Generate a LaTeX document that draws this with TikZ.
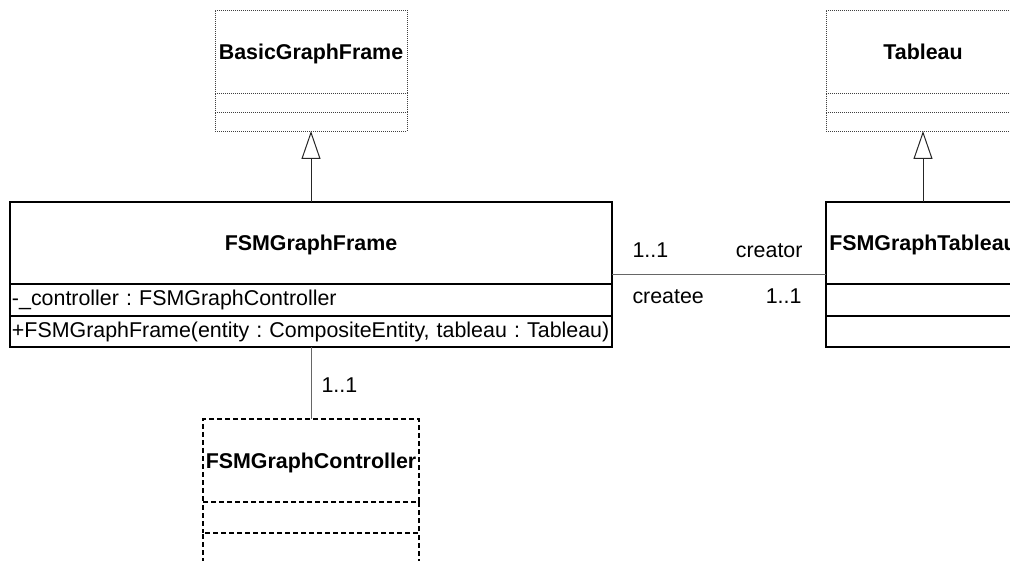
\documentclass[tikz,border=0pt]{standalone}
\usepackage{fontspec}
\setmainfont{Liberation Sans}
\usetikzlibrary{arrows.meta,positioning}

\begin{document}
\frenchspacing
\begin{tikzpicture}[
  node distance=0pt,
  font=\fontsize{21.4}{25}\selectfont,
  umlname/.style={rectangle, inner xsep=2pt, inner ysep=0pt, outer sep=0pt, text depth=0pt, align=center, font=\fontsize{21.4}{25}\selectfont\bfseries},
  umlcomp/.style={rectangle, inner xsep=2pt, inner ysep=0pt, outer sep=0pt, align=left},
  solidbox/.style={draw=black, line width=1.6pt},
  dotbox/.style={draw=black!75, line width=0.9pt, dash pattern=on 1pt off 1pt},
  dashbox/.style={draw=black, line width=1.4pt, dash pattern=on 5pt off 3pt},
  gen/.style={-{Triangle[open, length=28pt, width=19pt, line width=1pt]}, line width=1pt, draw=black!85},
  assoc/.style={line width=1pt, draw=black!60},
  mult/.style={inner sep=0pt, font=\fontsize{21.4}{25}\selectfont}
]
\useasboundingbox (0pt,0pt) rectangle (1010pt,-561pt);
\clip (0pt,0pt) rectangle (1010pt,-561pt);

% FSMGraphFrame
\node[umlname, solidbox, minimum width=602pt, minimum height=82pt] (frame) at (311pt,-243pt) {FSMGraphFrame};
\node[umlcomp, solidbox, minimum width=602pt, text width=598pt, minimum height=32pt, below=of frame] (fattr) {-\_controller : FSMGraphController};
\node[umlcomp, solidbox, minimum width=602pt, text width=598pt, minimum height=31pt, below=of fattr] (fmeth) {+FSMGraphFrame(entity : CompositeEntity, tableau : Tableau)};

% BasicGraphFrame
\node[umlname, dotbox, minimum width=192pt, minimum height=83pt, above=109pt of frame] (basic) {BasicGraphFrame};
\node[umlcomp, dotbox, minimum width=192pt, minimum height=19pt, below=of basic] (bcomp1) {};
\node[umlcomp, dotbox, minimum width=192pt, minimum height=19pt, below=of bcomp1] (bcomp2) {};

% FSMGraphTableau
\node[umlname, solidbox, minimum width=194pt, minimum height=82pt, right=214pt of frame] (fsmtab) {FSMGraphTableau};
\node[umlcomp, solidbox, minimum width=194pt, minimum height=32pt, below=of fsmtab] (tattr) {};
\node[umlcomp, solidbox, minimum width=194pt, minimum height=31pt, below=of tattr] (tmeth) {};

% Tableau
\node[umlname, dotbox, minimum width=194pt, minimum height=83pt, above=109pt of fsmtab] (tab) {Tableau};
\node[umlcomp, dotbox, minimum width=194pt, minimum height=19pt, below=of tab] (tcomp1) {};
\node[umlcomp, dotbox, minimum width=194pt, minimum height=19pt, below=of tcomp1] (tcomp2) {};

% FSMGraphController
\node[umlname, dashbox, minimum width=216pt, minimum height=83pt, below=72pt of fmeth] (ctrl) {FSMGraphController};
\node[umlcomp, dashbox, dash phase=6pt, minimum width=216pt, minimum height=31pt, below=of ctrl] (ccomp1) {};
\node[umlcomp, dashbox, minimum width=216pt, minimum height=31pt, below=of ccomp1] (ccomp2) {};

% connectors
\draw[gen] (frame.north) -- (bcomp2.south);
\draw[gen] (fsmtab.north) -- (tcomp2.south);
\draw[assoc] ([yshift=-32pt]frame.east) -- ([yshift=-32pt]fsmtab.west)
  node[mult, pos=0, anchor=base west, xshift=20pt, yshift=17pt] (m1) {1..1}
  node[mult, pos=0, anchor=base west, xshift=20pt, yshift=-29pt] (r1) {createe}
  node[mult, pos=1, anchor=base east, xshift=-23pt, yshift=17pt] (r2) {creator}
  node[mult, pos=1, anchor=base east, xshift=-24pt, yshift=-29pt] (m2) {1..1};
\draw[assoc] (fmeth.south) -- (ctrl.north)
  node[mult, pos=0, anchor=base west, xshift=10pt, yshift=-45pt] (m3) {1..1};
\end{tikzpicture}
\end{document}
